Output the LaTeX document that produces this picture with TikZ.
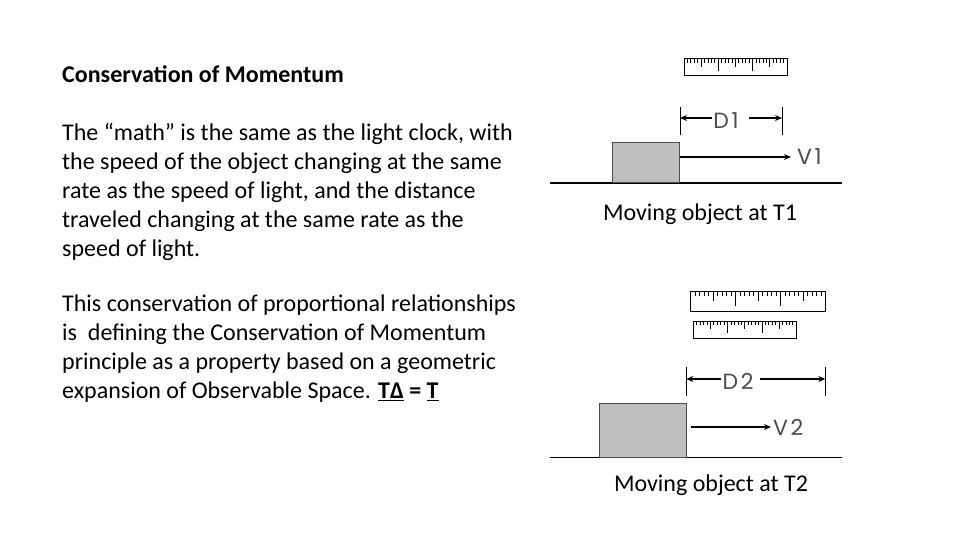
\documentclass[tikz,border=0pt]{standalone}
\usepackage{fontspec}
\setmainfont{Carlito}
\newfontfamily\labelfont[LetterSpace=12]{Poppins}
\usepackage{tikz}
\usetikzlibrary{arrows.meta, positioning}
\tikzstyle{slidetext} = [align=left, inner sep=0pt, font=\fontsize{24}{29}\selectfont]
\tikzstyle{caption} = [inner sep=0pt, font=\fontsize{24}{29}\selectfont]
\tikzstyle{tag} = [inner sep=1pt, text=black!70, font=\labelfont\fontsize{22}{26}\selectfont]
\tikzstyle{block} = [draw=black!70, line width=0.8pt, fill=black!25, inner sep=0pt]
\tikzstyle{arrow} = [line width=1.8pt, ->, >={Stealth[length=7pt,width=6pt]}]
\tikzstyle{ground} = [line width=1.4pt]
\tikzstyle{bar} = [line width=0.8pt]
\tikzset{
  pics/ruler/.style={code={
    \draw[line width=1pt] (0,0) rectangle (103,17);
    \foreach \k in {1,...,29}{
      \pgfmathsetmacro\len{mod(\k,10)==0 ? 12 : (mod(\k,5)==0 ? 8 : 4)}
      \draw[line width=0.8pt] (\k*3.43,0) -- ++(0,\len);
    }
  }}
}

\begin{document}
\begin{tikzpicture}[x=1pt, y=-1pt]
    \useasboundingbox[fill=white] (0,0) rectangle (960,540);
    % left side text
    \node [slidetext, anchor=west, font=\fontsize{24}{29}\selectfont\bfseries] (title) at (62,74) {Conservation of Momentum};
    \node [slidetext, below=40pt of title.south west, anchor=north west] (para1) {The “math” is the same as the light clock, with\\the speed of the object changing at the same\\rate as the speed of light, and the distance\\traveled changing at the same rate as the\\speed of light.};
    \node [slidetext, below=34pt of para1.south west, anchor=north west] (para2) {This conservation of proportional relationships\\is\ \ defining the Conservation of Momentum\\principle as a property based on a geometric\\expansion of Observable Space. \textbf{\underline{T∆} = \underline{T}}};

    % moving object at T1
    \pic at (684,59) {ruler};
    \coordinate (g1a) at (550,183);
    \coordinate (g1b) at (842,183);
    \draw [ground] (g1a) -- (g1b);
    \node [block, minimum width=67pt, minimum height=40.5pt, anchor=south] (box1) at (645.8,183) {};
    \coordinate (v1tip) at (791,157);
    \node [tag, right=5pt of v1tip] (v1) {V1};
    \draw [arrow] (box1.east |- v1tip) -- (v1tip);
    \draw [bar] (680,107) -- (680,135);
    \draw [bar] (782,107) -- (782,135);
    \coordinate (d1l) at (680,118);
    \coordinate (d1r) at (782,118);
    \node [tag, inner sep=0pt] (d1) at (726,121) {D1};
    \draw [arrow] ([xshift=-1pt]d1.west |- d1l) -- (d1l);
    \draw [arrow] ([xshift=10pt]d1.east |- d1r) -- (d1r);
    \node [caption] (cap1) at (700,214) {Moving object at T1};

    % moving object at T2
    \pic [xscale=1.31, yscale=1.22] at (690.7,291) {ruler};
    \pic at (693.3,321) {ruler};
    \coordinate (g2a) at (550,457.5);
    \coordinate (g2b) at (842,457.5);
    \draw [ground] (g2a) -- (g2b);
    \node [block, minimum width=87pt, minimum height=53.5pt, anchor=south] (box2) at (642.8,457.5) {};
    \coordinate (v2tip) at (771,427);
    \node [tag, right=1pt of v2tip] (v2) {V2};
    \draw [arrow] ([xshift=4pt]box2.east |- v2tip) -- (v2tip);
    \draw [bar] (686.3,367) -- (686.3,396);
    \draw [bar] (825.3,367) -- (825.3,396);
    \coordinate (d2l) at (686.3,379);
    \coordinate (d2r) at (825.3,379);
    \node [tag, inner sep=0pt] (d2) at (738,381.5) {D2};
    \draw [arrow] ([xshift=-1pt]d2.west |- d2l) -- (d2l);
    \draw [arrow] ([xshift=6pt]d2.east |- d2r) -- (d2r);
    \node [caption] (cap2) at (711,485) {Moving object at T2};
\end{tikzpicture}
\end{document}
